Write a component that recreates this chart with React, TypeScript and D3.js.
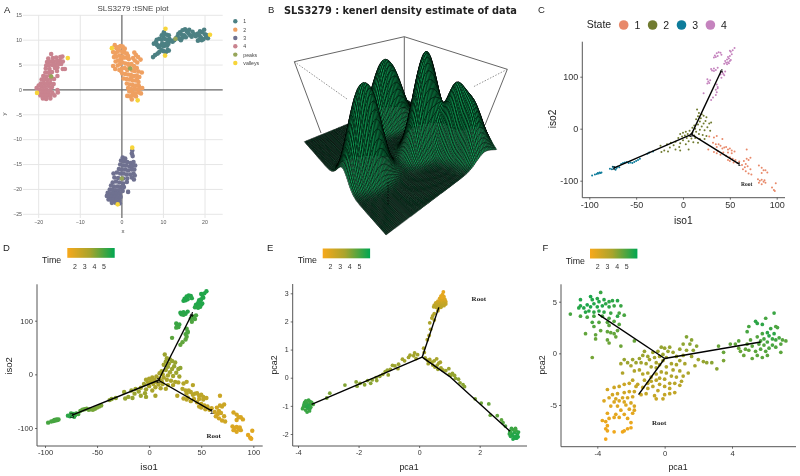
import { useEffect, useRef } from 'react';
import * as d3 from 'd3';

const WIDTH = 800;
const HEIGHT = 476;
const SANS = '"Liberation Sans", Arial, sans-serif';

// panel A: tSNE coordinates [x, y]
const tsne1 = [[7.5,6.6],[8,7],[8.6,7.3],[9,7.6],[9.5,8],[10,7.8],[10.6,7.6],[11,8],[11.3,7.9],[7.7,9.3],[8.2,9.6],[8.5,9],[8.9,8.6],[9.3,8.9],[9.7,9.3],[10.1,8.8],[10.5,9.2],[10.9,8.9],[11.2,9.3],[8.4,10.1],[9,10.3],[9.6,10.1],[10,10.5],[10.5,10.2],[11,10],[11.4,10.3],[11.8,9.9],[9.6,11],[10.2,11.2],[10.8,11.1],[11.3,11],[10.1,11.6],[12.2,9.7],[12.6,10],[13,10.4],[13.4,10.8],[13.8,10.3],[14.2,10],[14.6,10.5],[13.6,11.3],[14,11.6],[14.4,11.1],[15,11],[15.4,10.6],[14.6,12],[15.2,12.2],[15.6,11.8],[16,11.4],[16.4,11],[16.8,10.7],[16.2,12.1],[17,11.7],[17.4,11.2],[17.8,10.8],[18.2,11.3],[18.6,11],[19,10.6],[18.8,11.8],[19.3,11.6],[19.8,12.1],[20,11.2],[20.2,10.6],[20.7,10.4],[20.5,11],[19.2,10],[18.3,9.9],[18.7,10.2],[19.6,10.2]];
const tsne2 = [[-1.7,9],[-1.3,8.4],[-0.8,8.6],[-2.1,7.6],[-1.6,7.4],[-1,7.7],[-0.3,8.8],[0.2,8.7],[0.7,8.3],[-1.9,6.6],[-1.3,6.7],[-0.6,6.9],[0.1,7.6],[0.6,7.5],[1.2,7.3],[-1.5,5.7],[-0.9,5.9],[-0.2,6.2],[0.5,6.5],[1.1,6.5],[1.7,6.2],[3,7.5],[3.4,7],[3.9,6.6],[4.5,6.1],[2.7,6.4],[3.1,5.9],[3.7,5.5],[-2.1,4.8],[-1.6,4.2],[-1,4.9],[-0.4,5.2],[0.2,5.5],[0.9,5.3],[1.5,5.2],[2.3,5.2],[2.9,4.8],[3.6,4.4],[-0.6,4],[0,4.3],[0.7,4.4],[1.3,4],[2.5,3.9],[3.1,3.8],[4,3.7],[4.8,3.5],[0.1,3.3],[0.8,3.2],[1.5,3.1],[2.2,3],[2.9,2.8],[3.6,2.9],[4.2,2.6],[0.4,2.3],[1.1,2.2],[1.8,2.1],[2.6,1.9],[3.3,1.9],[4,1.6],[1.2,1.3],[1.9,1.1],[2.6,1],[3.4,0.9],[4.1,0.8],[1.5,0.4],[2.2,0.2],[3,0.3],[3.6,0.1],[4.4,0.3],[4.9,0.4],[1.8,-0.3],[2.6,-0.5],[3.2,-0.7],[4,-0.5],[4.6,-0.7],[1.3,-1.2],[2,-1.3],[2.6,-1.1],[3.4,-1.3],[2.4,-1.9],
[-0.7,8],[0.4,7.9],[0.1,6.7],[1.5,6.8],[-0.3,5.7],[1.8,4.6],[3.2,4.4],[-0.2,3.8],[2.3,2.5],[3.7,2.3]];
const tsne3 = [[2.5,-12.2],[2.4,-12.8],[2.6,-13.3],[0.2,-13.6],[0.8,-13.8],[-0.2,-14.2],[0.5,-14.4],[1.3,-14.5],[2.1,-14.7],[2.8,-14.5],[-0.4,-15],[0.3,-15.2],[1,-15.2],[1.8,-15.4],[2.5,-15.3],[3.2,-15.2],[-0.7,-15.9],[0,-16],[0.8,-16],[1.5,-16.2],[2.3,-16],[3,-16],[-2,-16.8],[-1.2,-16.6],[-0.4,-16.8],[0.4,-16.8],[1.1,-17],[2,-17],[2.8,-16.8],[3.1,-17.2],[-1.8,-17.6],[-0.9,-17.7],[0.3,-17.8],[1.3,-17.8],[2.4,-17.6],[2.9,-18],[-2.2,-18.6],[-1.4,-18.4],[-0.6,-18.6],[0.3,-18.8],[1.2,-18.5],[-2.6,-19.2],[-1.9,-19.4],[-1.1,-19.4],[-0.3,-19.5],[0.5,-19.5],[-2.9,-20],[-2.2,-20.1],[-1.5,-20.2],[-0.7,-20.2],[0.2,-20.3],[1.5,-20.5],[-3.4,-20.7],[-2.8,-20.8],[-2,-20.8],[-1.3,-20.9],[-0.5,-20.9],[-3.6,-21.3],[-3,-21.4],[-2.4,-21.5],[-1.7,-21.5],[-1,-21.6],[-0.3,-21.5],[-3.2,-22],[-2.6,-22.1],[-2,-22.1],[-1.4,-22.3],[-0.6,-22.2],[-2.4,-22.7],[-1.5,-22.7],[-0.5,-22.8]];
const tsne4 = [[-17,7.2],[-17.7,6.3],[-16.6,6.4],[-15.8,6.5],[-14.8,6.6],[-14.3,6.7],[-18,5.6],[-17.2,5.7],[-16.4,5.7],[-15.6,5.8],[-14.9,5.9],[-14.2,5.7],[-18.2,4.9],[-17.5,5],[-16.7,5],[-16,5.1],[-15.2,5.2],[-14.6,5.2],[-18.3,4.3],[-17.4,4.2],[-16.1,4.4],[-15.5,4.5],[-14.2,4.2],[-13.7,4.2],[-18.4,3.5],[-17.6,3.5],[-16.8,3.6],[-15.6,3.8],[-18.9,2.8],[-18.1,2.7],[-17.3,3],[-15.5,2.8],[-19.3,2.1],[-18.6,2.1],[-17.9,2],[-17.1,2.2],[-16.3,2.2],[-19.5,1.3],[-18.8,1.4],[-18,1.3],[-17.2,1.4],[-16.4,1.2],[-20,0.9],[-19.3,0.7],[-18.5,0.7],[-17.6,0.8],[-16.8,0.6],[-20.5,0.4],[-19.7,0.1],[-18.9,0],[-18.1,0.1],[-17.2,0],[-15.5,0],[-20,-0.5],[-19.2,-0.6],[-18.4,-0.6],[-17.6,-0.6],[-16.7,-0.6],[-15.4,-0.5],[-19.6,-1.1],[-18.9,-1.2],[-18,-1.2],[-17.2,-1.2],[-16.2,-1.1],[-19,-1.7],[-18.2,-1.8],[-17.2,-1.7]];
const tsnePeaks = [[12.9,10.3],[2,4.3],[0,-17.8],[-17,2.7]];
const tsneValleys = [[10.5,12.3],[21.2,11.1],[10.4,6.9],[-2.4,8.4],[3.8,-2.1],[2.5,-11.6],[-1,-23],[-13,6.4],[-20.4,-0.6]];
const tsneLegend = ['1', '2', '3', '4', 'peaks', 'valleys'];
const tsneColors = ['#4C8083', '#EFA061', '#6F7190', '#C9838F', '#97A65A', '#F7D53A'];

// panels C and D: [iso1, iso2, time], one list per state
const iso1State = [[36,-14,3.2],[33,-17,3.2],[28,-15,3.2],[42,-20,3.1],[32,-27,3.2],[35,-30,3.1],[38,-30,3.1],[40,-33,3.1],[36,-35,3.1],[42,-38,3],[44,-36,3.1],[27,-40,3.1],[33,-45,3],[36,-47,3],[40,-50,3],[37,-43,3],[43,-46,2.9],[48,-40,2.9],[50,-38,2.9],[52,-42,2.9],[46,-35,3],[48,-46,2.8],[52,-47,2.9],[55,-44,2.8],[50,-55,2.8],[53,-58,2.7],[46,-52,2.9],[56,-60,2.7],[50,-62,2.8],[54,-65,2.7],[58,-66,2.6],[60,-63,2.6],[48,-60,2.8],[68,-40,2.5],[72,-56,2.5],[70,-60,2.5],[68,-58,2.5],[65,-62,2.4],[67,-68,2.4],[63,-70,2.4],[66,-74,2.3],[69,-72,2.4],[64,-78,2.3],[67,-82,2.3],[72,-78,2.4],[70,-86,2.3],[73,-88,2.4],[81,-71,2.2],[84,-75,2.2],[86,-80,2.2],[88,-80,2.1],[90,-84,2.1],[84,-85,2.1],[80,-97,2.1],[82,-100,2],[84,-98,2],[86,-102,2],[81,-104,2],[84,-107,2],[88,-104,2.1],[87,-99,2],[99,-105,1.9],[95,-113,1.8],[97,-118,1.7],[98,-120,1.7]];
const iso2State = [[15,37,3.7],[17,30,3.7],[20,28,3.8],[16,24,3.7],[22,25,3.8],[25,22,3.8],[19,20,3.7],[14,18,3.6],[18,14,3.7],[24,15,3.8],[28,10,3.8],[30,12,3.9],[22,10,3.7],[16,8,3.6],[12,6,3.6],[20,4,3.6],[26,3,3.7],[13,0,3.5],[10,2,3.5],[18,-2,3.5],[23,-3,3.6],[29,-4,3.6],[7,-4,3.4],[3,-6,3.4],[0,-8,3.4],[5,-10,3.4],[10,-8,3.4],[14,-6,3.4],[-3,-10,3.5],[2,-13,3.4],[7,-14,3.4],[12,-13,3.4],[17,-10,3.4],[21,-12,3.4],[25,-14,3.4],[-1,-15,3.5],[4,-18,3.4],[9,-19,3.4],[13,-18,3.4],[18,-20,3.4],[23,-20,3.3],[-5,-18,3.6],[0,-22,3.5],[6,-24,3.4],[11,-26,3.4],[16,-27,3.4],[-8,-25,3.6],[-3,-28,3.6],[3,-30,3.5],[-13,-27,3.7],[-10,-32,3.7],[-4,-35,3.7],[-17,-30,3.7],[-14,-36,3.7],[-8,-40,3.7],[-3,-42,3.7],[6,-40,3.5],[-23,-45,3.8],[-20,-42,3.8],[-24,-33,3.8],[-16,-44,3.8]];
const iso3State = [[-97,-90,5],[-94,-88,5],[-92,-87,5],[-90,-86,5],[-88,-85,5],[-91,-85,5],[-89,-84,5],[-87,-84,5],[-78,-77,5.4],[-76,-78,5.5],[-74,-76,5.5],[-72,-79,5.4],[-73,-74,5.4],[-71,-76,5.4],[-70,-73,5.2],[-68,-74,5],[-75,-73,5.3],[-66,-68,4.7],[-64,-66,4.6],[-62,-65,4.6],[-60,-64,4.5],[-58,-66,4.5],[-56,-65,4.4],[-54,-66,4.3],[-52,-64,4.3],[-50,-62,4.2],[-48,-60,4.2],[-46,-58,4.2],[-38,-48,4],[-36,-46,4],[-32,-44,4]];
const iso4State = [[36,145,5.6],[38,147,5.6],[40,146,5.6],[34,141,5.6],[35,138,5.6],[37,140,5.6],[41,142,5.5],[33,137,5.6],[50,150,5.6],[51,148,5.6],[52,143,5.6],[53,151,5.6],[55,155,5.6],[48,138,5.6],[49,135,5.6],[47,133,5.6],[45,130,5.6],[46,127,5.6],[48,128,5.6],[50,130,5.6],[44,125,5.5],[47,124,5.5],[49,126,5.5],[51,132,5.6],[50,140,5.6],[30,115,5.5],[31,112,5.5],[33,116,5.5],[35,113,5.5],[37,117,5.5],[33,111,5.4],[42,108,5],[45,110,5],[44,103,4.9],[41,98,4.9],[43,105,5],[40,104,5],[26,95,5.2],[27,91,5.2],[28,88,5.1],[26,87,5.1],[29,93,5.2],[36,85,4.9],[37,80,4.9],[35,75,4.9],[36,70,4.8],[37,78,4.9],[35,65,4.7],[32,60,4.6],[30,55,4.6],[22,68,4.7]];
// branch-point coordinates of the trajectory, branch, root, left tip, top tip
const isoTree = [[9,-11],[60,-68],[-74,-76],[41,112]];
const isoTreeLabels = ['2', '1', '3', '4'];

// panel E: [pca1, pca2, time]
const pcaE = [[.8,3.05,1.7],[.77,2.95,1.7],[.72,2.9,1.8],[.82,2.88,1.8],[.68,2.82,1.9],[.76,2.82,1.7],[.85,2.78,2],[.62,2.72,2.2],[.7,2.74,2.1],[.78,2.72,2.2],[.88,2.7,2.3],[.55,2.66,2.6],[.63,2.65,2.5],[.7,2.64,2.6],[.8,2.65,2.6],[.88,2.62,2.7],[.5,2.58,2.9],[.58,2.58,2.8],[.66,2.57,2.8],[.74,2.56,2.8],[.82,2.56,2.8],[.48,2.52,3],[.56,2.5,3],[.64,2.47,3],[.72,2.5,3],[.62,2.38,3.1],[.45,2.2,3.2],[.5,2.28,3.2],[.42,2.12,3.3],[.5,2.05,3.3],[.35,1.95,3.4],[.38,1.72,3.4],[.33,1.5,3.4],[.27,1.35,3.4],[.15,1.05,3.5],[.17,.9,3.5],
[-.35,.72,3.6],[-.3,.8,3.6],[-.18,.78,3.6],[-.15,.88,3.6],[-.1,.68,3.6],[-.05,.82,3.6],[-.48,.6,3.6],[-.55,.66,3.6],[-.68,.48,3.7],[-.8,.42,3.7],[-.88,.44,3.7],[-.7,.32,3.7],[-.95,.3,3.7],[-1.05,.27,3.8],[-1.12,.22,3.8],[-1.2,.12,3.8],[-1.02,.1,3.8],[-1.3,.05,3.9],[-1.42,0,3.9],[-1.55,-.08,3.9],[-1.4,-.1,3.9],[-1.6,-.2,4],[-1.7,-.1,4],[-1.8,-.25,4],[-1.95,-.2,4],[-2.05,-.3,4],[-2.08,-.15,4],[-2.45,-.26,4.1],[-2.95,-.55,4.2],[-3.05,-.72,4.3],[-3.5,-.95,5],
[-3.75,-1,5.2],[-3.82,-1.03,5.2],[-3.7,-.9,5.2],[-3.65,-.8,5.2],[-3.6,-.95,5.2],[-3.58,-1.05,5.2],[-3.68,-1.08,5.4],[-3.75,-1.15,5.2],[-3.7,-1.22,5.2],[-3.62,-1.12,5.4],[-3.78,-.88,5.3],[-3.72,-1.02,5.5],[-3.66,-.98,5.5],[-3.6,-.85,5.2],[-3.8,-.95,5.3],[-3.85,-1.1,5.2],[-3.74,-.82,5.2],[-3.55,-.88,5.1],[-3.62,-1.18,5.2],
[.2,.7,3.6],[.28,.62,3.6],[.35,.65,3.5],[.42,.55,3.6],[.5,.6,3.6],[.58,.67,3.5],[.3,.5,3.6],[.45,.45,3.6],[.52,.38,3.6],[.6,.45,3.6],[.65,.52,3.6],[.7,.55,3.5],[.72,.35,3.6],[.62,.3,3.7],[.78,.28,3.6],[.88,.25,3.7],[.98,.32,3.7],[1,.12,3.8],[1.1,.15,3.8],[1.17,.08,3.8],[1.05,.08,3.8],[1.2,-.02,3.9],[1.3,-.05,3.9],[1.35,-.18,3.9],[1.45,-.25,4],[1.5,-.32,4],[1.85,-.75,4.2],[2.05,-.9,4.4],[2.3,-.93,4.5],[2.35,-1.33,4.5],[2.58,-1.35,4.6],[2.72,-1.5,4.7],[2.77,-1.6,4.8],[2.85,-1.72,4.9],
[3,-1.9,5.3],[3.05,-2,5.5],[3.1,-1.85,5.2],[3.15,-1.95,5.5],[3.2,-1.88,5.2],[3.08,-2.05,5.6],[3.13,-2.1,5.6],[3.2,-2.08,5.6],[3.25,-2,5.6],[3.02,-2.08,5.5],[3.17,-2.15,5.6],[3.1,-2.18,5.6],[3.28,-1.93,5.4],[2.98,-2,5.4],[3.22,-2.15,5.6],[3,-1.95,5.3],[3.05,-1.8,5.2],[3.18,-1.8,5.1],[3.27,-2.1,5.6]];
const pcaETree = [[.1,.73],[.65,2.5],[-3.55,-.95],[1,.05],[3,-1.9]];

// panel F: [pca1, pca2, time]
const pcaF = [[-5.6,3.8,5],[-5,5.2,5.6],[-4.4,5.5,5.7],[-4.3,5.2,5.6],[-3.8,5.9,5.2],[-4,5.3,5.5],[-3.9,5,5.6],[-3.6,5.2,5.5],[-3.1,5.1,5.4],[-3.3,5,5.4],[-2.8,5.1,5.5],[-5,4.6,5.6],[-4.8,4.4,5.6],[-4.6,4.7,5.7],[-4.4,4.5,5.7],[-4.2,4.8,5.6],[-4,4.5,5.6],[-3.7,4.6,5.6],[-3.5,4.8,5.4],[-3.3,4.5,5.4],[-3,4.6,5.2],[-2.6,4.6,5.2],[-5.1,4.4,5.5],[-4.7,4,5.5],[-4.5,4.1,5.5],[-4.2,4,5.4],[-3.9,4.1,5.5],[-3.6,4,5.4],[-3.2,3.9,5.2],[-2.8,3.6,5.4],[-5,3.6,5],[-4.6,3.5,5],[-4.2,3.6,5],[-3.7,3.6,5],[-3.3,3.4,5],[-2.7,3.9,5],[-2.4,3.7,5],[-4.3,3,5],[-3.9,3,4.8],[-3.4,3,4.8],[-3,3.1,4.8],[-2.7,2.8,4.8],[-3.3,2.7,4.7],[-2.8,2.2,4.6],[-4.2,2.6,4.8],[-3.8,2.2,4.6],[-3.4,2.1,4.6],[-3.2,2,4.6],[-3,1.9,4.6],[-2.9,1.6,4.5],[-4.7,1.9,4.6],[-4.1,1.8,4.6],[-4.1,1.4,4.5],[-3.4,1.3,4.5],[-3.3,1,4.4],[-2.6,.7,4.4],[-1.8,1.2,4.5],[-4.3,-.4,4.3],
[-2.2,-.9,3.7],[-2.4,-.6,3.8],[-1.9,-.6,3.7],[-1.7,-.9,3.7],[-1.5,-.5,3.7],[-1.3,-.2,3.7],[-1.2,.2,3.8],[-1,-.3,3.7],[-1.4,-.9,3.6],[-1.1,-1,3.6],[-.9,-.6,3.6],[-.7,.1,3.7],[-.6,-.4,3.6],[-.5,-.9,3.5],[-.4,.2,3.7],[-.3,-.3,3.6],[-.2,.6,3.8],[-.1,-.1,3.7],[0,.5,3.8],[-.8,-1.3,3.5],[-.5,-1.4,3.5],[-.3,-1.1,3.4],[-.1,-.7,3.5],[.1,-.4,3.6],[.2,.2,3.7],[.3,.6,3.8],[.5,.1,3.7],[.7,-.3,3.7],[.9,.4,3.8],[.9,-.7,3.6],[1.1,.9,3.9],[1.1,-.2,3.7],[1.3,.3,3.8],[1.5,.9,4],[1.3,1.6,4.1],[1.6,1.3,4],[1.6,-.3,3.7],[1.7,.3,3.9],[1.9,.7,4],[2,-.6,3.7],[2.3,-.8,3.8],[2.5,-.9,3.9],[2.8,-.9,4],[3.1,-1.5,4],[3.5,-.7,4.2],[1.2,-1,3.5],[1.8,-1.2,3.6],[1.4,-1.9,3.4],[.7,-1.1,3.5],[.4,-1,3.5],[.1,-1.3,3.4],[.5,-1.6,3.4],[.9,-1.7,3.4],[1.1,-2.2,3.3],[1,-2.7,3.2],[.7,-2.3,3.3],[.4,-2.2,3.3],[.1,-1.9,3.3],[-.2,-1.8,3.3],[-.5,-2,3.2],[-.8,-2.3,3.2],[-1,-1.9,3.2],[-1.3,-2,3.2],[-1.5,-1.6,3.3],[-1.8,-1.7,3.3],[-2,-1.2,3.5],[-2.6,-1,3.6],[-2.5,-1.9,3.3],[-1.2,-2.6,3],[-1,-2.9,3],[-.8,-2.7,3],[-.5,-2.6,3],[-.3,-2.4,3.1],[0,-2.5,3.1],[.3,-2.9,3],[.6,-2.9,3],[.9,-3.1,3],[.3,-3.4,2.9],[0,-3.2,2.9],[-.3,-3,2.9],[-.7,-3.2,2.9],[-1,-3.4,2.8],[-1.3,-3.3,2.8],[-1.6,-3,2.8],[-1.9,-2.6,2.9],[-.4,-3.6,2.8],[-.6,-4.1,2.7],[0,-4,2.7],[.3,-3.9,2.8],[.6,-3.8,2.8],[-.5,-4.4,2.6],[-.1,-4.4,2.7],[-1.1,-3.9,2.7],[-1.4,-4,2.6],
[-3.4,-3.5,2.3],[-3,-3.3,2.4],[-2.7,-3.2,2.5],[-2.4,-3,2.5],[-2.1,-2.9,2.6],[-1.7,-3.2,2.6],[-3.1,-4,2.3],[-2.8,-3.9,2.3],[-2.4,-3.8,2.4],[-2.1,-3.7,2.4],[-1.8,-3.7,2.5],[-3.3,-4.3,2.1],[-2.9,-4.4,2.2],[-2.5,-4.3,2.2],[-2.2,-4.3,2.2],[-1.9,-4.2,2.3],[-3.6,-4.6,2],[-3,-4.7,2],[-2.7,-4.6,2],[-2.4,-4.7,2],[-2,-4.8,2.2],[-3.2,-5.1,1.9],[-2.8,-5.1,1.9],[-2.3,-5,2],[-1.8,-5.1,2.1],[-2.6,-5.5,1.8],[-2.1,-5.4,1.9],[-1.8,-5.5,1.9],[-3.4,-5.8,1.7],[-2.9,-5.9,1.8],[-2.4,-5.9,1.8],[-1.9,-5.8,1.8],[-3.7,-6.5,1.6],[-3.3,-6.3,1.6],[-3,-6.2,1.7],[-2.7,-6.2,1.7],[-2.2,-6.3,1.7],[-3.5,-6.6,1.6],[-3.4,-7,1.5],[-2,-6.7,1.6],[-3.5,-7.3,1.5],[-3.4,-7.5,1.5],[-3,-7.6,1.4],[-2.5,-7.6,1.4],[-2.4,-7.5,1.5],[-2.2,-7.3,1.5],[-2,-7.2,1.5],[-3.5,-8.3,1.3],
[3.2,.7,4.5],[3.5,.1,4.5],[4.2,.9,4.6],[4.4,.5,4.5],[4.5,.2,4.5],[4.7,-.2,4.5],[4.8,.4,4.6],[4.9,.9,4.6],[5,.3,4.6],[5.1,1.3,4.7],[5.2,-.5,4.6],[5.2,.7,4.7],[5.4,.2,4.7],[5.5,1.6,4.8],[5.5,-.2,4.7],[5.6,.9,4.8],[5.7,1.2,4.9],[5.7,.4,4.8],[5.8,-.4,4.7],[5.8,1.9,5],[5.9,.8,4.8],[5.9,1.4,5],[6,.2,4.8],[6.1,2,5.4],[6.1,1.1,5],[6.2,1.7,5.4],[6.2,.5,4.9],[6.3,2.4,5.2],[6.4,1.4,5.2],[6.4,.8,5],[6.5,1.9,5.4],[6.6,1.3,5.1],[6.6,.6,4.9],[6.8,1.5,5],[6.9,.9,4.8],[7,1.3,4.8],[7.2,1.2,4.7],[6.9,.1,4.7],[6.1,-.2,4.7],[6.7,2.5,5],[6.6,2.6,4.9],[6.5,3.9,5.2],[5.5,2.9,5.4],[5.4,3.1,5.4],[5.8,2.8,5.4],[6,3.4,5],[5,2.6,5],[4.9,2.1,5],[4.4,1.2,4.7],[3.9,.9,4.6]];
const pcaFTree = [[0,-.5],[-1.55,-4],[-3.95,3.8],[5.7,1.1]];

// time colour bar stops and ticks, shared by D, E, F
const timeDomain = [1.2, 3.5, 6.1];
const timeRange = ['#F7A81B', '#A9A42C', '#00A651'];
const timeTicks = [2, 3, 4, 5];
const stateLabels = ['1', '2', '3', '4'];
const stateColors = ['#E8896A', '#707B30', '#0E7C9B', '#C583BE'];

// panel B: viewing geometry of the perspective box, in page pixels
const baseLeft = [304.3, 141.7];
const baseFront = [386, 235];
const baseRight = [496.7, 151.7];
const baseBack = [407, 100];
const boxTop = [[294.3, 61.7], [404.3, 36.7], [507.3, 69.3]];
const boxSolid = [[[294.3, 61.7], [321, 133]], [[507.3, 69.3], [485, 125]], [[404.3, 36.7], [404.3, 105]]];
const boxDashed = [[[294.3, 61.7], [347, 99]], [[507.3, 69.3], [473, 87]]];
const boxFrontDashed = [[388, 182], [388, 205]];
const meshSize = 84;

const colorTime = d3.scaleLinear<string>().domain(timeDomain).range(timeRange);
const colorFace = d3.scaleLinear<string>().domain([0, 1]).range(['#0A4529', '#109A54']);

function addAxisStyle(ax: any, size: number, color = '#333') {
  ax.select('.domain').remove();
  ax.selectAll('line').attr('stroke', color).attr('stroke-width', 0.7);
  ax.selectAll('text').attr('font-family', SANS).attr('font-size', size).attr('fill', color);
}

function addText(g: any, x: number, y: number, s: string, size: number, opts: any = {}) {
  return g.append('text').attr('x', x).attr('y', y).text(s)
    .attr('font-family', opts.family || SANS).attr('font-size', size)
    .attr('font-weight', opts.weight || 'normal')
    .attr('fill', opts.fill || '#222').attr('text-anchor', opts.anchor || 'start');
}

function drawTsne(svg: any) {
  const g = svg.append('g');
  const x = d3.scaleLinear().domain([-20, 20]).range([38.7, 205]);
  const y = d3.scaleLinear().domain([-25, 15]).range([214.3, 15.3]);
  const left = 23, right = 222.7, top = 15, bottom = 218;
  const xTicks = [-20, -10, 0, 10, 20];
  const yTicks = [-25, -20, -15, -10, -5, 0, 5, 10, 15];

  xTicks.filter(d => d !== 0).forEach(d => {
    g.append('line').attr('x1', x(d)).attr('x2', x(d)).attr('y1', top).attr('y2', bottom).attr('stroke', '#e6e6e6').attr('stroke-width', 1);
  });
  yTicks.filter(d => d !== 0).forEach(d => {
    g.append('line').attr('x1', left).attr('x2', right).attr('y1', y(d)).attr('y2', y(d)).attr('stroke', '#e6e6e6').attr('stroke-width', 1);
  });
  g.append('line').attr('x1', x(0)).attr('x2', x(0)).attr('y1', top).attr('y2', bottom).attr('stroke', '#8a8a8a').attr('stroke-width', 1.6);
  g.append('line').attr('x1', left).attr('x2', right).attr('y1', y(0)).attr('y2', y(0)).attr('stroke', '#666').attr('stroke-width', 1.3);

  const groups = [tsne1, tsne2, tsne3, tsne4, tsnePeaks, tsneValleys];
  groups.forEach((pts, i) => {
    g.append('g').selectAll('circle').data(pts).enter().append('circle')
      .attr('cx', (d: number[]) => x(d[0])).attr('cy', (d: number[]) => y(d[1]))
      .attr('r', 2.3).attr('fill', tsneColors[i]);
  });

  xTicks.forEach(d => addText(g, x(d), 224, d < 0 ? `\u2212${-d}` : `${d}`, 5.2, { anchor: 'middle', fill: '#555' }));
  yTicks.forEach(d => addText(g, 22, y(d) + 1.8, d < 0 ? `\u2212${-d}` : `${d}`, 5.2, { anchor: 'end', fill: '#555' }));
  addText(g, 123, 233, 'x', 6, { anchor: 'middle', fill: '#444' });
  addText(g, 8, 116, 'y', 6, { anchor: 'middle', fill: '#444' }).attr('transform', 'rotate(-90 6 116)');
  addText(g, 133, 10.5, 'SLS3279 :tSNE plot', 8, { anchor: 'middle', fill: '#444' });

  tsneLegend.forEach((d, i) => {
    const ly = 21.3 + i * 8.33;
    g.append('circle').attr('cx', 235.3).attr('cy', ly).attr('r', 2.2).attr('fill', tsneColors[i]);
    addText(g, 243.3, ly + 1.9, d, 5.2, { fill: '#444' });
  });
}

// kernel density over the panel A points, evaluated on the mesh
function densityGrid(xs: number[], ys: number[], pts: number[][], sx: number, sy: number) {
  const grid = ys.map(yv => xs.map(xv => d3.sum(pts, p => Math.exp(-0.5 * (((xv - p[0]) / sx) ** 2 + ((yv - p[1]) / sy) ** 2)))));
  const top = d3.max(grid, r => d3.max(r)) as number;
  return grid.map(r => r.map(v => v / top));
}

function drawSurface(svg: any) {
  const g = svg.append('g');
  addText(g, 284, 13.5, 'SLS3279 : kenerl density estimate of data', 10, { family: '"DejaVu Sans", sans-serif', weight: 'bold', fill: '#222' })
    .attr('textLength', 233).attr('lengthAdjust', 'spacingAndGlyphs');

  const line = d3.line();
  g.append('path').attr('d', line(boxTop as any)).attr('fill', 'none').attr('stroke', '#666').attr('stroke-width', 1);
  boxSolid.forEach(s => g.append('path').attr('d', line(s as any)).attr('stroke', '#666').attr('stroke-width', 1));
  boxDashed.forEach(s => g.append('path').attr('d', line(s as any)).attr('stroke', '#777').attr('stroke-width', 0.8).attr('stroke-dasharray', '1.5,1.5'));

  const allPts = [...tsne1, ...tsne2, ...tsne3, ...tsne4];
  const xs = d3.range(meshSize + 1).map(i => -24 + (48 * i) / meshSize);
  const ys = d3.range(meshSize + 1).map(j => -26 + (41.5 * j) / meshSize);
  const dens = densityGrid(xs, ys, allPts, 2.8, 2.8);

  // u runs along x, v along y, the base is a bilinear patch of the four corners
  const project = (i: number, j: number) => {
    const u = i / meshSize, v = j / meshSize;
    const bx = (1 - v) * ((1 - u) * baseLeft[0] + u * baseFront[0]) + v * ((1 - u) * baseBack[0] + u * baseRight[0]);
    const by = (1 - v) * ((1 - u) * baseLeft[1] + u * baseFront[1]) + v * ((1 - u) * baseBack[1] + u * baseRight[1]);
    const depth = (u + 1 - v) / 2;
    return [bx, by - dens[j][i] * 100 * (0.55 + 0.95 * depth)];
  };

  const faces = g.append('g').attr('stroke', '#000').attr('stroke-width', 0.45).attr('stroke-linejoin', 'round');
  for (let i = 0; i < meshSize; i++) {
    for (let j = meshSize - 1; j >= 0; j--) {
      const a = project(i, j), b = project(i + 1, j), c = project(i + 1, j + 1), d = project(i, j + 1);
      const slope = Math.hypot(dens[j][i + 1] - dens[j][i], dens[j + 1][i] - dens[j][i]) * meshSize;
      const shade = Math.min(1, dens[j][i] * 4 + slope * 0.6);
      faces.append('path')
        .attr('d', `M${a[0].toFixed(1)},${a[1].toFixed(1)}L${b[0].toFixed(1)},${b[1].toFixed(1)}L${c[0].toFixed(1)},${c[1].toFixed(1)}L${d[0].toFixed(1)},${d[1].toFixed(1)}Z`)
        .attr('fill', colorFace(shade));
    }
  }
  g.append('path').attr('d', line(boxFrontDashed as any)).attr('stroke', '#000').attr('stroke-width', 0.8).attr('stroke-dasharray', '1.5,1.5');
}

function drawGgPanel(svg: any, cfg: any) {
  const g = svg.append('g');
  const x = d3.scaleLinear().domain(cfg.xDomain).range(cfg.xRange);
  const y = d3.scaleLinear().domain(cfg.yDomain).range(cfg.yRange);

  g.append('path').attr('d', `M${cfg.left},${cfg.top}V${cfg.bottom}H${cfg.right}`).attr('fill', 'none').attr('stroke', '#555').attr('stroke-width', 1);

  const xAxis = g.append('g').attr('transform', `translate(0,${cfg.bottom})`)
    .call(d3.axisBottom(x).tickValues(cfg.xTicks).tickFormat(String as any).tickSize(2).tickPadding(2));
  addAxisStyle(xAxis, cfg.tickSize);
  const yAxis = g.append('g').attr('transform', `translate(${cfg.left},0)`)
    .call(d3.axisLeft(y).tickValues(cfg.yTicks).tickFormat(String as any).tickSize(2).tickPadding(2));
  addAxisStyle(yAxis, cfg.tickSize);

  g.append('g').selectAll('circle').data(cfg.points).enter().append('circle')
    .attr('cx', (d: number[]) => x(d[0])).attr('cy', (d: number[]) => y(d[1]))
    .attr('r', cfg.r).attr('fill', (d: number[]) => cfg.color(d));

  const lineGen = d3.line<number[]>().x(d => x(d[0])).y(d => y(d[1]));
  cfg.branches.forEach((b: number[][]) => {
    g.append('path').attr('d', lineGen(b)).attr('fill', 'none').attr('stroke', '#000').attr('stroke-width', 1.4);
  });
  if (cfg.nodes) {
    cfg.nodes.forEach((n: number[], i: number) => {
      addText(g, x(n[0]), y(n[1]) + cfg.nodeSize * 0.36, isoTreeLabels[i], cfg.nodeSize, { anchor: 'middle', fill: '#000' });
    });
  }

  addText(g, (cfg.xLabelX), cfg.xLabelY, cfg.xLabel, cfg.labelSize, { anchor: 'middle' });
  const yl = addText(g, cfg.yLabelX, cfg.yLabelY, cfg.yLabel, cfg.labelSize, { anchor: 'middle' });
  yl.attr('transform', `rotate(-90 ${cfg.yLabelX} ${cfg.yLabelY})`);
  addText(g, x(cfg.root[0]), y(cfg.root[1]), 'Root', cfg.rootSize, { family: '"Liberation Serif", serif', weight: 'bold', anchor: 'middle', fill: '#222' });
}

function drawTimeLegend(svg: any, id: string, textX: number, barX: number, barY: number) {
  const g = svg.append('g');
  const grad = svg.append('defs').append('linearGradient').attr('id', id);
  const bar = d3.scaleLinear().domain([timeDomain[0], timeDomain[2]]).range([barX, barX + 47.4]);
  timeDomain.forEach(t => {
    grad.append('stop').attr('offset', `${((t - timeDomain[0]) / (timeDomain[2] - timeDomain[0])) * 100}%`).attr('stop-color', colorTime(t));
  });
  g.append('rect').attr('x', barX).attr('y', barY).attr('width', 47.4).attr('height', 9.8).attr('fill', `url(#${id})`);
  timeTicks.forEach(t => addText(g, bar(t), barY + 20.5, `${t}`, 7, { anchor: 'middle', fill: '#333' }));
  addText(g, textX, barY + 14.8, 'Time', 8.8, { fill: '#222' });
}

export default function App() {
  const svgRef = useRef<SVGSVGElement>(null);

  useEffect(() => {
    if (!svgRef.current) return;
    const svg = d3.select(svgRef.current);
    svg.selectAll('*').remove();

    svg.append('rect').attr('width', WIDTH).attr('height', HEIGHT).attr('fill', '#fff');

    addText(svg, 4, 12.5, 'A', 9.5);
    addText(svg, 268, 13, 'B', 9.5);
    addText(svg, 538, 13, 'C', 9.5);
    addText(svg, 3, 251, 'D', 9.5);
    addText(svg, 267, 251, 'E', 9.5);
    addText(svg, 542.5, 251, 'F', 9.5);

    drawTsne(svg);
    drawSurface(svg);

    // C
    const isoAll = [...iso1State, ...iso2State, ...iso3State, ...iso4State];
    const isoStates = [
      ...iso1State.map(d => [...d, 0]), ...iso2State.map(d => [...d, 1]),
      ...iso3State.map(d => [...d, 2]), ...iso4State.map(d => [...d, 3]),
    ];
    const isoBranches = isoTree.slice(1).map(n => [isoTree[0], n]);
    const stateLegend = svg.append('g');
    addText(stateLegend, 586.7, 28.3, 'State', 10.5);
    stateLabels.forEach((s, i) => {
      const cx = 623.7 + i * 28.9;
      stateLegend.append('circle').attr('cx', cx).attr('cy', 25).attr('r', 4.8).attr('fill', stateColors[i]);
      addText(stateLegend, cx + 13.6, 28.7, s, 10.5, { anchor: 'middle' });
    });
    drawGgPanel(svg, {
      xDomain: [-100, 100], xRange: [589.3, 776.7], yDomain: [-100, 100], yRange: [180.7, 76.7],
      left: 582.3, top: 41.7, bottom: 197.7, right: 785,
      xTicks: [-100, -50, 0, 50, 100], yTicks: [-100, 0, 100], tickSize: 9,
      points: isoStates, r: 1, color: (d: number[]) => stateColors[d[3]],
      branches: isoBranches, nodes: isoTree, nodeSize: 6,
      xLabel: 'iso1', xLabelX: 683.3, xLabelY: 224, yLabel: 'iso2', yLabelX: 556, yLabelY: 119, labelSize: 10.2,
      root: [68, -111], rootSize: 5.5,
    });

    // D
    drawTimeLegend(svg, 'timeD', 42, 67.3, 248);
    drawGgPanel(svg, {
      xDomain: [-100, 100], xRange: [45, 253.3], yDomain: [-100, 100], yRange: [428, 320.7],
      left: 37, top: 284.3, bottom: 446, right: 262.7,
      xTicks: [-100, -50, 0, 50, 100], yTicks: [-100, 0, 100], tickSize: 7.6,
      points: isoAll, r: 2.2, color: (d: number[]) => colorTime(d[2]),
      branches: isoBranches, nodes: isoTree, nodeSize: 8,
      xLabel: 'iso1', xLabelX: 149, xLabelY: 470, yLabel: 'iso2', yLabelX: 12, yLabelY: 366, labelSize: 9.5,
      root: [62, -118], rootSize: 7,
    });

    // E
    drawTimeLegend(svg, 'timeE', 297.7, 322.7, 248.5);
    drawGgPanel(svg, {
      xDomain: [-4, 2], xRange: [298, 479.7], yDomain: [-2, 3], yRange: [434, 293.3],
      left: 292.7, top: 284, bottom: 446, right: 527,
      xTicks: [-4, -2, 0, 2], yTicks: [-2, -1, 0, 1, 2, 3], tickSize: 7,
      points: pcaE, r: 1.9, color: (d: number[]) => colorTime(d[2]),
      branches: [[pcaETree[0], pcaETree[1]], [pcaETree[0], pcaETree[2]], [pcaETree[0], pcaETree[3], pcaETree[4]]],
      xLabel: 'pca1', xLabelX: 409, xLabelY: 470, yLabel: 'pca2', yLabelX: 277, yLabelY: 365, labelSize: 8.8,
      root: [1.97, 2.72], rootSize: 7,
    });

    // F
    drawTimeLegend(svg, 'timeF', 565.7, 590, 248.7);
    drawGgPanel(svg, {
      xDomain: [-4, 4], xRange: [597.3, 732], yDomain: [-5, 5], yRange: [405, 301.7],
      left: 561, top: 284.3, bottom: 446.7, right: 796,
      xTicks: [-4, 0, 4], yTicks: [-5, 0, 5], tickSize: 7.6,
      points: pcaF, r: 1.85, color: (d: number[]) => colorTime(d[2]),
      branches: pcaFTree.slice(1).map(n => [pcaFTree[0], n]),
      xLabel: 'pca1', xLabelX: 678, xLabelY: 470, yLabel: 'pca2', yLabelX: 545, yLabelY: 365, labelSize: 8.8,
      root: [-.32, -6.9], rootSize: 7,
    });
  }, []);

  return (
    <svg ref={svgRef} width={WIDTH} height={HEIGHT} style={{ position: 'absolute', left: 0, top: 0, filter: 'blur(0.35px)' }} />
  );
}
